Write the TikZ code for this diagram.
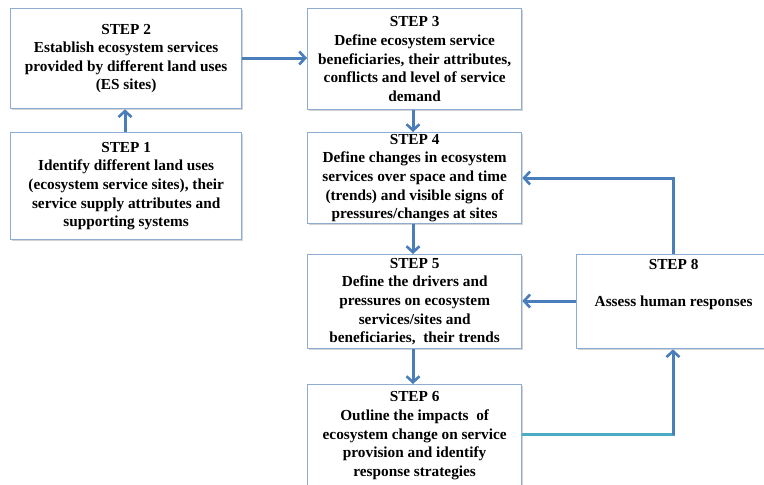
\documentclass[tikz,border=0pt]{standalone}
\usepackage{fontspec}
\setmainfont{Liberation Serif}
\usetikzlibrary{arrows.meta,shadows}
\definecolor{boxline}{RGB}{140,172,212}
\definecolor{arrblue}{RGB}{74,126,187}
\definecolor{arrteal}{RGB}{75,172,198}
\tikzset{
  x=1pt, y=-1pt,
  stepbox/.style={draw=boxline, line width=1.3pt, fill=white, align=center,
    drop shadow={shadow xshift=1.2pt, shadow yshift=-1.2pt, opacity=0.35, fill=gray},
    font=\fontsize{15.3}{18.6}\selectfont\bfseries, inner sep=0pt, anchor=north west},
  flow/.style={draw=arrblue, line width=3pt, -{Straight Barb[length=6pt,width=13pt,line width=2.6pt]}},
  tealline/.style={draw=arrteal, line width=3pt},
}
\begin{document}
\begin{tikzpicture}
\useasboundingbox (0,0) rectangle (764,485);
\clip (0,0) rectangle (764,485);
\node[stepbox, minimum width=231pt, minimum height=100pt] (s2) at (10,8)
  {STEP 2\\Establish ecosystem services\\provided by different land uses\\(ES sites)};
\node[stepbox, minimum width=231pt, minimum height=107pt] (s1) at (10,132)
  {STEP 1\\Identify different land uses\\(ecosystem service sites), their\\service supply attributes and\\supporting systems};
\node[stepbox, minimum width=214pt, minimum height=101pt] (s3) at (307,8)
  {STEP 3\\Define ecosystem service\\beneficiaries, their attributes,\\conflicts and level of service\\demand};
\node[stepbox, minimum width=214pt, minimum height=91pt] (s4) at (307,132)
  {STEP 4\\Define changes in ecosystem\\services over space and time\\(trends) and visible signs of\\pressures/changes at sites};
\node[stepbox, minimum width=214pt, minimum height=94pt] (s5) at (307,254)
  {STEP 5\\Define the drivers and\\pressures on ecosystem\\services/sites and\\beneficiaries, \ their trends};
\node[stepbox, minimum width=214pt, minimum height=102pt] (s6) at (307,384)
  {STEP 6\\Outline the impacts \ of\\ecosystem change on service\\provision and identify\\response strategies};
\node[stepbox, minimum width=194pt, minimum height=94pt] (s8) at (576,254)
  {STEP 8\\\mbox{}\\Assess human responses\\\mbox{}\\\mbox{}};
\coordinate (c68) at (673,434.5);
\coordinate (c84) at (673,178);
\draw[flow] (s1.north -| 125,0) -- (s2.south -| 125,0);
\draw[flow] (s2.east |- 0,58) -- (s3.west |- 0,58);
\draw[flow] (s3.south -| 413,0) -- (s4.north -| 413,0);
\draw[flow] (s4.south -| 413,0) -- (s5.north -| 413,0);
\draw[flow] (s5.south -| 413,0) -- (s6.north -| 413,0);
\draw[flow] (s8.west |- 0,301) -- (s5.east |- 0,301);
\draw[tealline] (s6.east |- c68) -- ([xshift=1.5pt]c68);
\draw[flow] (c68) -- (s8.south -| c68);
\draw[flow] (s8.north -| c84) -- (c84) -- (s4.east |- c84);
\end{tikzpicture}
\end{document}
